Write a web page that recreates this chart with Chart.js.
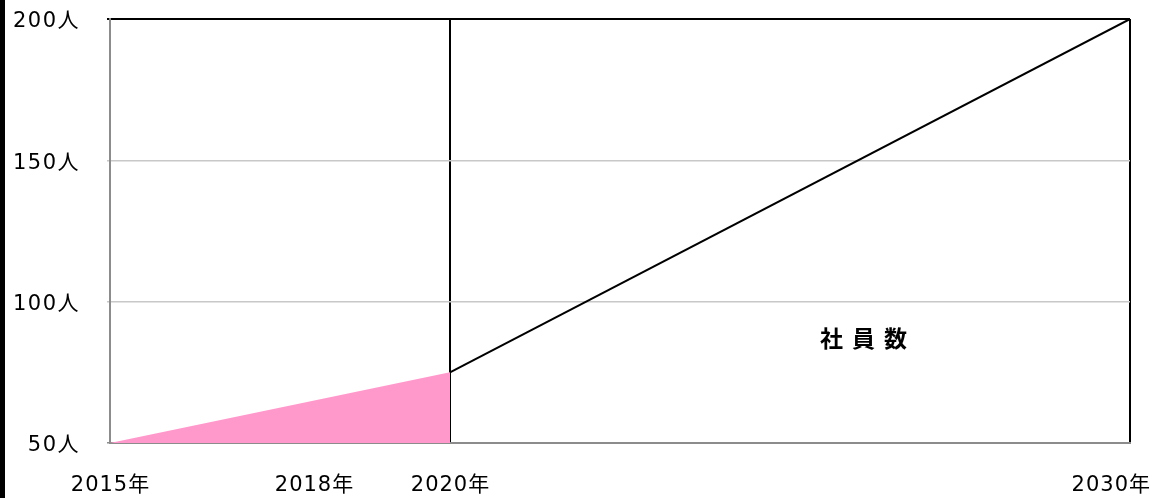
<!DOCTYPE html>
<html>
<head>
<meta charset="utf-8">
<script src="https://cdn.jsdelivr.net/npm/chart.js@4/dist/chart.umd.min.js"></script>
<style>
  html, body { margin: 0; padding: 0; background: #fff; }
  #c { display: block; }
</style>
</head>
<body>
<canvas id="c" width="1160" height="498"></canvas>
<script>
// ---- data ----
const years = [2015, 2020, 2030];
const employees = [50, 75, 200];
const xTickYears = [2015, 2018, 2020, 2030];
const yTickValues = [50, 100, 150, 200];
const seriesName = '社員数';
const yUnit = '人';
const xUnit = '年';

const actualPts = [
  { x: years[0], y: employees[0] },
  { x: years[1], y: employees[1] }
];
const forecastPts = [
  { x: years[1], y: employees[1] },
  { x: years[2], y: employees[2] }
];

const LABEL_FONT = '21px "DejaVu Sans", "Noto Sans CJK JP", sans-serif';

const decorPlugin = {
  id: 'decor',
  beforeDraw(chart) {
    const ctx = chart.ctx;
    ctx.save();
    ctx.fillStyle = '#fff';
    ctx.fillRect(0, 0, chart.width, chart.height);
    ctx.fillStyle = '#000';
    ctx.fillRect(0, 0, 5, chart.height);
    ctx.restore();
    try { ctx.letterSpacing = '1.5px'; } catch (e) {}
  },
  afterDraw(chart) {
    const ctx = chart.ctx;
    const xs = chart.scales.x;
    const ys = chart.scales.y;
    ctx.save();
    try { ctx.letterSpacing = '1px'; } catch (e) {}
    ctx.font = LABEL_FONT;
    ctx.fillStyle = '#000';
    ctx.textBaseline = 'middle';
    ctx.textAlign = 'left';
    const baseY = chart.chartArea.bottom + 43;
    xTickYears.forEach(v => {
      const t = v + xUnit;
      const w = ctx.measureText(t).width - 1;
      let cx = xs.getPixelForValue(v);
      let left = cx - w / 2;
      if (left + w > chart.width - 10) left = chart.width - 10 - w;
      ctx.fillText(t, left, baseY);
    });
    // series label
    ctx.font = 'bold 23px "Noto Sans CJK JP", sans-serif';
    ctx.textAlign = 'left';
    try { ctx.letterSpacing = '9px'; } catch (e) {}
    const lx = xs.getPixelForValue(2025.44);
    const ly = ys.getPixelForValue(87);
    ctx.fillText(seriesName, lx, ly);
    ctx.restore();
    try { ctx.letterSpacing = '0px'; } catch (e) {}
  }
};

new Chart(document.getElementById('c'), {
  type: 'line',
  data: {
    datasets: [
      {
        label: seriesName,
        data: actualPts,
        borderWidth: 0,
        borderColor: 'rgba(0,0,0,0)',
        backgroundColor: '#FF99CC',
        fill: 'start',
        pointRadius: 0,
        tension: 0
      },
      {
        label: seriesName + '2',
        data: forecastPts,
        borderWidth: 2,
        borderColor: '#000',
        fill: false,
        pointRadius: 0,
        tension: 0
      }
    ]
  },
  options: {
    responsive: false,
    animation: false,
    devicePixelRatio: 1,
    layout: { padding: { top: 19, right: 30, left: 0, bottom: 0 } },
    plugins: {
      legend: { display: false },
      tooltip: { enabled: false }
    },
    scales: {
      x: {
        type: 'linear',
        min: years[0],
        max: years[2],
        afterBuildTicks(scale) {
          scale.ticks = xTickYears.map(v => ({ value: v }));
        },
        afterFit(scale) {
          scale.height = 55;
          scale.paddingLeft = 0;
          scale.paddingRight = 0;
        },
        ticks: { display: false },
        grid: {
          drawTicks: false,
          color: ctx => (ctx.tick && (ctx.tick.value === 2020 || ctx.tick.value === 2030)) ? '#000' : 'rgba(0,0,0,0)',
          lineWidth: 2
        },
        border: { color: '#8c8c8c', width: 2 }
      },
      y: {
        min: 50,
        max: 200,
        afterBuildTicks(scale) {
          scale.ticks = yTickValues.map(v => ({ value: v }));
        },
        afterFit(scale) {
          scale.width = 110;
          scale.paddingTop = 0;
          scale.paddingBottom = 0;
        },
        ticks: {
          color: '#000',
          font: { family: '"DejaVu Sans", "Noto Sans CJK JP", sans-serif', size: 21 },
          padding: 27,
          labelOffset: 3,
          callback: v => v + yUnit
        },
        grid: {
          tickLength: 3,
          color: ctx => {
            const v = ctx.tick && ctx.tick.value;
            if (v === 200) return '#000';
            if (v === 50) return '#8c8c8c';
            return '#c8c8c8';
          },
          lineWidth: ctx => (ctx.tick && ctx.tick.value === 200) ? 2 : 1.5
        },
        border: { color: '#8c8c8c', width: 2 }
      }
    }
  },
  plugins: [decorPlugin]
});
</script>
</body>
</html>
